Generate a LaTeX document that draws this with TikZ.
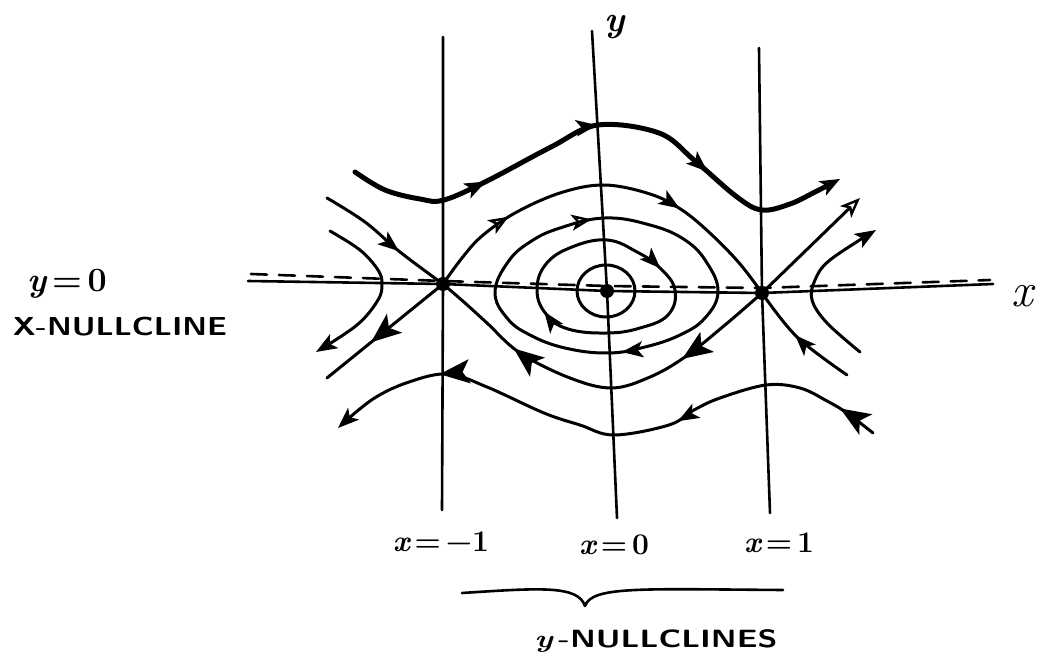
\documentclass[tikz,border=0pt]{standalone}
\usepackage{fontspec}
\usepackage{graphicx}
\usetikzlibrary{arrows.meta,decorations.markings}
\tikzset{
  medA/.tip={Stealth[length=21pt,width=16pt,inset=5pt]},
  bigA/.tip={Stealth[length=30pt,width=24pt,inset=7pt]},
  opnA/.tip={Stealth[open,length=20pt,width=16pt,inset=5pt,line width=2.4pt]},
  nc/.style={line width=2.6pt, line cap=round, line join=round},
  traj/.style={line width=3pt, line cap=round, line join=round},
  heavy/.style={line width=5pt, line cap=round, line join=round},
  fm/.style={postaction={decorate,decoration={markings,mark=at position #1 with {\arrow{medA}}}}},
  bm/.style={postaction={decorate,decoration={markings,mark=at position #1 with {\arrow{bigA}}}}},
  om/.style={postaction={decorate,decoration={markings,mark=at position #1 with {\arrow{opnA}}}}},
  lab/.style={inner sep=0pt, anchor=center}
}
\begin{document}
\begin{tikzpicture}[x=1pt,y=-1pt]
\useasboundingbox (0,0) rectangle (1037,668);
\coordinate (sL) at (443,284);
\coordinate (ctr) at (607,291);
\coordinate (sR) at (762,293);

% nullclines and axes
\draw[nc] (443,37) -- (sL) -- (442,510);
\draw[nc] (592,31) -- (ctr) -- (617,518);
\draw[nc] (759,48) -- (sR) -- (770,513);
\draw[nc] (248,281) -- (sL) -- (ctr) -- (sR) -- (993,284);
\draw[nc, dash pattern=on 16pt off 12pt] (251,274) -- (443,281) -- (607,286) -- (762,288) -- (990,280);

% top heavy trajectory
\draw[heavy, -opnA, fm=0.26, fm=0.49, fm=0.72] plot[smooth,tension=0.6] coordinates {(355,172) (385,190) (420,199) (444,200) (487,181) (551,147) (598,125) (659,133) (694,160) (737,197) (762,210) (790,204) (815,192) (840,179)};

% separatrices between saddles
\draw[traj, om=0.24, fm=0.70] plot[smooth,tension=0.6] coordinates {(443,284) (462,258) (482,236) (515,213) (560,193) (604,185) (650,194) (682,210) (712,235) (740,264) (762,293)};
\draw[traj, bm=0.27, bm=0.75] plot[smooth,tension=0.6] coordinates {(762,293) (725,325) (685,357) (650,377) (612,388) (570,378) (520,353) (487,323) (465,303) (443,284)};

% closed orbits
\draw[traj, om=0.17, fm=0.67] plot[smooth cycle,tension=0.7] coordinates {(495,292) (508,262) (530,242) (560,228) (605,218) (650,225) (685,240) (707,263) (718,292) (705,318) (680,335) (645,347) (608,353) (565,348) (530,335) (507,318)};
\draw[traj, fm=0.35, fm=0.86] plot[smooth cycle,tension=0.7] coordinates {(537,290) (546,264) (572,247) (607,240) (637,252) (660,268) (675,290) (668,315) (640,328) (607,333) (568,329) (546,314)};
\draw[traj] (606,291) ellipse[x radius=29, y radius=26];

% left saddle branches
\draw[traj, fm=0.62] plot[smooth,tension=0.6] coordinates {(327,198) (365,222) (400,252) (443,284)};
\draw[traj, bm=0.62] (sL) -- (327,378);
\draw[traj, -medA] plot[smooth,tension=0.6] coordinates {(330,231) (360,250) (378,270) (382,284) (378,300) (357,325) (316,352)};

% right saddle branches
\draw[traj, -opnA] (sR) -- (860,198);
\draw[traj, fm=0.55] plot[smooth,tension=0.6] coordinates {(847,375) (797,337) (762,293)};
\draw[traj, -medA] plot[smooth,tension=0.6] coordinates {(860,352) (827,323) (812,300) (815,280) (830,260) (876,230)};

% lower trajectory
\draw[traj, bm=0.07, fm=0.37, bm=0.80, -medA] plot[smooth,tension=0.6] coordinates {(873,433) (847,413) (827,401) (800,388) (766,385) (720,398) (694,410) (669,425) (614,435) (580,425) (544,413) (487,387) (448,374) (409,382) (373,399) (338,428)};

% equilibria
\fill (sL) circle[radius=7pt];
\fill (ctr) circle[radius=7pt];
\fill (sR) circle[radius=7pt];

% brace
\draw[nc] (462,593) .. controls (540,588) and (578,585) .. (585,606) .. controls (592,586) and (640,589) .. (783,590);

% labels
\node[lab] (ylab) at (615,27) {\fontsize{36}{36}\selectfont\bfseries\itshape y};
\node[lab] (xlab) at (1022,296) {\fontsize{48}{48}\selectfont\itshape x};
\node[lab] (y0) at (67,284) {\fontsize{34}{34}\selectfont\bfseries{\itshape y}\,=\,0};
\node[lab] (xnull) at (120,327) {\scalebox{1.2}[1]{\fontsize{26}{26}\selectfont\sffamily\bfseries X-NULLCLINE}};
\node[lab] (xm1) at (441,542) {\fontsize{30}{30}\selectfont\bfseries{\itshape x}\,=\,−1};
\node[lab] (x0) at (614,545) {\fontsize{30}{30}\selectfont\bfseries{\itshape x}\,=\,0};
\node[lab] (x1) at (779,543) {\fontsize{30}{30}\selectfont\bfseries{\itshape x}\,=\,1};
\node[lab] (ynull) at (656,641) {\scalebox{1.3}[1]{\fontsize{25}{25}\selectfont\bfseries{\itshape y}\,\sffamily-NULLCLINES}};
\end{tikzpicture}
\end{document}
